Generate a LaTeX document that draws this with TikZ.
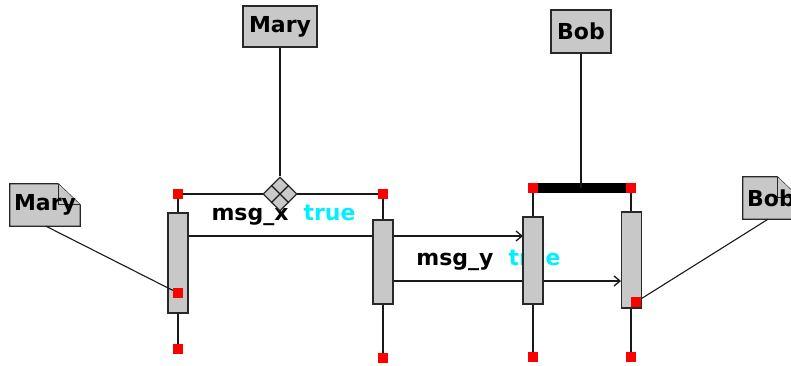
\documentclass[tikz,border=0pt]{standalone}
\usepackage{fontspec}
\setmainfont{DejaVu Sans}
\usetikzlibrary{shapes.geometric,arrows.meta,calc,backgrounds}
\definecolor{boxgray}{RGB}{200,200,200}
\definecolor{edgegray}{RGB}{40,40,40}
\definecolor{cyantxt}{RGB}{0,240,255}
\begin{document}
\begin{tikzpicture}[x=1pt,y=-1pt,
  txt/.style={font=\bfseries\fontsize{22}{24}\selectfont},
  lbl/.style={txt, inner sep=0pt},
  redsq/.style={rectangle, fill=red, draw=none, minimum size=10pt, inner sep=0pt},
  actbox/.style={rectangle, draw=edgegray, line width=1.5pt, fill=boxgray, minimum width=20pt, inner sep=0pt},
  topbox/.style={rectangle, txt, draw=edgegray, line width=1.5pt, fill=boxgray, inner sep=0pt},
  notebox/.style={rectangle, txt, draw=none, inner sep=0pt, minimum height=42pt},
  noteedge/.style={draw=edgegray, line width=1.2pt, fill=boxgray},
  conn/.style={line width=1.3pt, draw=black!90},
  thin/.style={line width=1.1pt, draw=black!90},
  msg/.style={conn, -{Straight Barb[length=6pt,width=10pt,line width=1.3pt]}},
  dia/.style={diamond, draw=edgegray, line width=1.2pt, fill=boxgray, minimum width=34pt, minimum height=34pt, inner sep=0pt, aspect=1}]
\useasboundingbox (0,0) rectangle (791,365);
\begin{scope}
\clip (0,0) rectangle (791,365);

% lifeline end points
\node[redsq] (t1) at (178,194) {};
\node[redsq] (b1) at (178,349) {};
\node[redsq] (t2) at (383,194) {};
\node[redsq] (b2) at (383,358) {};
\node[redsq] (t3) at (533,188) {};
\node[redsq] (b3) at (533,357) {};
\node[redsq] (t4) at (631,188) {};
\node[redsq] (b4) at (631,357) {};

% lifelines
\draw[conn] (t1) -- (b1);
\draw[conn] (t2) -- (b2);
\draw[conn] (t3) -- (b3);
\draw[conn] (t4) -- (b4);

% top boxes
\node[topbox, minimum width=74pt, minimum height=41pt] (maryT) at (280,26.5) {Mary};
\node[topbox, minimum width=60pt, minimum height=43pt] (bobT) at (581,31.5) {Bob};

% group connectors
\draw[conn] (t1) -- (t2);
\draw[line width=10pt, black] (t3) -- (t4);
\draw[conn] (bobT.south) -- (bobT.south |- t3);

% messages
\coordinate (yx) at (0,236);
\coordinate (yy) at (0,281);
\draw[msg] ($(t1 |- yx)+(10,0)$) -- ($(t3 |- yx)+(-10,0)$);
\draw[msg] ($(t2 |- yy)+(10,0)$) -- ($(t4 |- yy)+(-10,0)$);

% labels
\node[lbl] (lx) at (283.5,215) {msg\_x\hspace{15pt}\textcolor{cyantxt}{true}};
\node[lbl] (ly) at (488.5,260) {msg\_y\hspace{15pt}\textcolor{cyantxt}{true}};

% activation boxes
\node[actbox, minimum height=100pt] (a1) at (178,263) {};
\node[actbox, minimum height=84pt] (a2) at (383,262) {};
\node[actbox, minimum height=87pt] (a3) at (533,260.5) {};
\node[actbox, minimum height=96pt] (a4) at (631.5,260) {};

% diamond
\node[dia] (d) at (280,194) {};
\draw[thin] ($(d.north)!0.5!(d.east)$) -- ($(d.south)!0.5!(d.west)$);
\draw[thin] ($(d.north)!0.5!(d.west)$) -- ($(d.south)!0.5!(d.east)$);
\draw[conn] (maryT.south) -- (d.north);

% redraw top squares over bars
\node[redsq] at (t1) {};
\node[redsq] at (t2) {};
\node[redsq] at (t3) {};
\node[redsq] at (t4) {};

% note anchors inside boxes
\node[redsq] (n1) at (178,293) {};
\node[redsq] (n4) at (636,302) {};

% notes
\node[notebox, minimum width=70pt] (noteM) at (45,205) {Mary};
\node[notebox, minimum width=56pt] (noteB) at (771,198) {Bob};
\begin{scope}[on background layer]
\draw[noteedge] (noteM.north west) -- ([xshift=-22pt]noteM.north east) -- ([yshift=-21pt]noteM.north east) -- (noteM.south east) -- (noteM.south west) -- cycle;
\draw[noteedge] ([xshift=-22pt]noteM.north east) -- ([xshift=-22pt,yshift=-21pt]noteM.north east) -- ([yshift=-21pt]noteM.north east);
\draw[noteedge] (noteB.north west) -- ([xshift=-22pt]noteB.north east) -- ([yshift=-21pt]noteB.north east) -- (noteB.south east) -- (noteB.south west) -- cycle;
\draw[noteedge] ([xshift=-22pt]noteB.north east) -- ([xshift=-22pt,yshift=-21pt]noteB.north east) -- ([yshift=-21pt]noteB.north east);
\end{scope}
\draw[thin] ([xshift=1pt]noteM.south) -- (n1);
\draw[thin] ([xshift=-3pt]noteB.south) -- (n4);
\end{scope}
\end{tikzpicture}
\end{document}
